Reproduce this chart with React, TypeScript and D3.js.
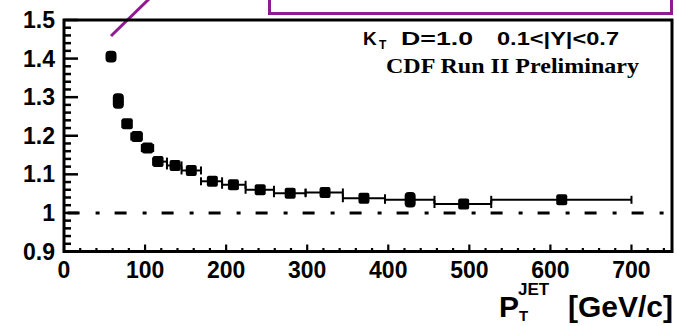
import { useEffect, useRef } from 'react';
import * as d3 from 'd3';

// bin edges (GeV/c) and measured points
const binEdges  = [54, 62, 72, 83, 96, 110, 127, 145, 169, 195, 224, 259, 298, 344, 396, 457, 527, 700];
const ptCenters = [58, 67, 78, 90, 103, 116, 137, 157, 183, 209, 242, 279, 322, 370, 427, 493, 614];
const ratio     = [1.405, 1.290, 1.231, 1.198, 1.168, 1.133, 1.123, 1.110, 1.082, 1.073, 1.060, 1.051, 1.053, 1.038, 1.034, 1.023, 1.034];
const ratioErr  = [0.015, 0.020, 0.008, 0.006, 0.006, 0.005, 0.005, 0.005, 0.005, 0.005, 0.005, 0.005, 0.005, 0.005, 0.020, 0.008, 0.008];

const yTickLabels = ['0.9', '1', '1.1', '1.2', '1.3', '1.4', '1.5'];
const xTickValues = [0, 100, 200, 300, 400, 500, 600, 700];

const W = 677;
const H = 326;
const PURPLE = '#901a90';

export default function App() {
  const ref = useRef<SVGSVGElement>(null);

  useEffect(() => {
    if (!ref.current) return;
    const svg = d3.select(ref.current);
    svg.selectAll('*').remove();

    const left = 64, right = 672, top = 20, bottom = 251.5;

    const x = d3.scaleLinear().domain([0, 750]).range([left, right]);
    const y = d3.scaleLinear().domain([0.9, 1.5]).range([bottom, top]);

    const sans = '"Liberation Sans", Arial, Helvetica, sans-serif';
    const serif = '"Liberation Serif", "Times New Roman", serif';

    // purple annotation box + pointer (cut off at top)
    svg.append('rect')
      .attr('x', 269.5).attr('y', -20)
      .attr('width', 402).attr('height', 33.5)
      .attr('fill', 'none').attr('stroke', PURPLE).attr('stroke-width', 3);

    svg.append('line')
      .attr('x1', 111).attr('y1', 36).attr('x2', 150).attr('y2', -2)
      .attr('stroke', PURPLE).attr('stroke-width', 3);

    // reference line at 1 (dash-dot)
    svg.append('line')
      .attr('x1', left).attr('x2', right)
      .attr('y1', y(1)).attr('y2', y(1))
      .attr('stroke', '#000').attr('stroke-width', 3)
      .attr('stroke-dasharray', '12,16,4,15').attr('stroke-dashoffset', 43.4);

    // y ticks (major 0.1, minor 0.02)
    const yMinor = d3.range(0, 31).map(i => 0.9 + i * 0.02);
    svg.append('g').selectAll('line')
      .data(yMinor)
      .enter().append('line')
      .attr('x1', left).attr('x2', (d: number, i: number) => left + (i % 5 === 0 ? 14 : 7))
      .attr('y1', (d: number) => y(d)).attr('y2', (d: number) => y(d))
      .attr('stroke', '#000').attr('stroke-width', 2.5);

    // x ticks (major 100, minor 20)
    const xMinor = d3.range(0, 38).map(i => i * 20);
    svg.append('g').selectAll('line')
      .data(xMinor)
      .enter().append('line')
      .attr('x1', (d: number) => x(d)).attr('x2', (d: number) => x(d))
      .attr('y1', bottom).attr('y2', (d: number) => bottom - (d % 100 === 0 ? 7 : 3.5))
      .attr('stroke', '#000').attr('stroke-width', 2.2);

    // frame
    svg.append('rect')
      .attr('x', left).attr('y', top)
      .attr('width', right - left).attr('height', bottom - top)
      .attr('fill', 'none').attr('stroke', '#000').attr('stroke-width', 3);

    // y labels
    svg.append('g').selectAll('text')
      .data(yTickLabels)
      .enter().append('text')
      .attr('x', 55).attr('y', (d: string) => y(+d) + 8)
      .attr('text-anchor', 'end')
      .attr('font-family', sans).attr('font-weight', 'bold').attr('font-size', 23)
      .text((d: string) => d);

    // x labels
    svg.append('g').selectAll('text')
      .data(xTickValues)
      .enter().append('text')
      .attr('x', (d: number) => x(d)).attr('y', 278)
      .attr('text-anchor', 'middle')
      .attr('font-family', sans).attr('font-weight', 'bold').attr('font-size', 23)
      .text((d: number) => String(d));

    // error bars + markers
    const pts = ptCenters.map((c, i) => ({
      c, v: ratio[i], e: ratioErr[i], lo: binEdges[i], hi: binEdges[i + 1],
    }));
    const g = svg.append('g');
    pts.forEach(p => {
      const yy = y(p.v);
      g.append('line')
        .attr('x1', x(p.lo)).attr('x2', x(p.hi)).attr('y1', yy).attr('y2', yy)
        .attr('stroke', '#000').attr('stroke-width', 2);
      [p.lo, p.hi].forEach(b => {
        g.append('line')
          .attr('x1', x(b)).attr('x2', x(b)).attr('y1', yy - 4).attr('y2', yy + 4)
          .attr('stroke', '#000').attr('stroke-width', 2);
      });
      const eh = Math.max(11, y(p.v - p.e) - y(p.v + p.e));
      g.append('rect')
        .attr('x', x(p.c) - 5.5).attr('y', yy - eh / 2)
        .attr('width', 11).attr('height', eh)
        .attr('rx', eh > 11 ? 4 : 2)
        .attr('fill', '#000');
    });

    // labels in the plot
    const t1 = svg.append('g').attr('font-family', sans).attr('font-weight', 'bold');
    t1.append('text').attr('x', 363).attr('y', 45).attr('font-size', 19).text('K');
    t1.append('text').attr('x', 379).attr('y', 49).attr('font-size', 12).text('T');
    t1.append('text').attr('x', 401).attr('y', 45).attr('font-size', 19)
      .attr('textLength', 72).attr('lengthAdjust', 'spacingAndGlyphs').text('D=1.0');
    t1.append('text').attr('x', 497).attr('y', 45).attr('font-size', 19)
      .attr('textLength', 122).attr('lengthAdjust', 'spacingAndGlyphs').text('0.1<|Y|<0.7');

    svg.append('text')
      .attr('x', 386).attr('y', 72.5)
      .attr('font-family', serif).attr('font-weight', 'bold').attr('font-size', 22)
      .attr('textLength', 253).attr('lengthAdjust', 'spacingAndGlyphs')
      .text('CDF Run II Preliminary');

    // axis title
    const at = svg.append('g').attr('font-family', sans).attr('font-weight', 'bold');
    at.append('text').attr('x', 499).attr('y', 317).attr('font-size', 30).text('P');
    at.append('text').attr('x', 518).attr('y', 295).attr('font-size', 17).text('JET');
    at.append('text').attr('x', 519).attr('y', 321).attr('font-size', 15).text('T');
    at.append('text').attr('x', 673).attr('y', 317).attr('font-size', 30)
      .attr('text-anchor', 'end').text('[GeV/c]');
  }, []);

  return (
    <>
      <style>{'body{margin:0}'}</style>
      <svg ref={ref} width={W} height={H} style={{ display: 'block', background: '#fff' }} />
    </>
  );
}
